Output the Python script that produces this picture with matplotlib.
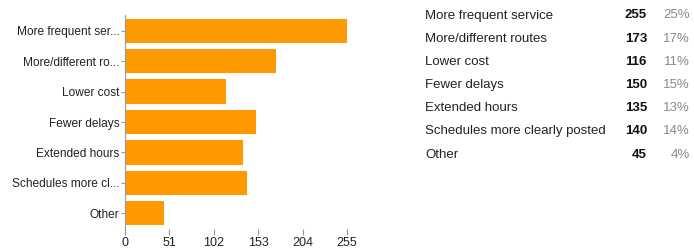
import matplotlib
matplotlib.use("Agg")
import matplotlib.pyplot as plt

plt.rcParams['font.family'] = ['Liberation Sans', 'DejaVu Sans']

labels = ["More frequent service", "More/different routes", "Lower cost",
          "Fewer delays", "Extended hours", "Schedules more clearly posted", "Other"]
short_labels = ["More frequent ser...", "More/different ro...", "Lower cost",
                "Fewer delays", "Extended hours", "Schedules more cl...", "Other"]
counts = [255, 173, 116, 150, 135, 140, 45]
percents = ["25%", "17%", "11%", "15%", "13%", "14%", "4%"]
xticks = [0, 51, 102, 153, 204, 255]

fig = plt.figure(figsize=(6.94, 2.49), dpi=100)
ax = fig.add_axes([125/694, 1 - 228.5/249, 222/694, (228.5 - 15.5)/249])

ypos = list(range(len(counts)))
ax.barh(ypos, counts, height=0.8, color='#ff9900', zorder=2)
ax.set_ylim(len(counts) - 0.5, -0.5)
ax.set_xlim(0, 255)
ax.set_xticks(xticks)
ax.set_xticklabels([str(t) for t in xticks], fontsize=9, color='#222222')
ax.set_yticks(ypos)
ax.set_yticklabels(short_labels, fontsize=8.6, color='#222222')
ax.tick_params(axis='y', length=3, width=0.8, color='#999999', pad=1)
ax.tick_params(axis='x', length=4, width=0.8, color='#999999', pad=2)
for s in ['top', 'right', 'bottom']:
    ax.spines[s].set_visible(False)
ax.spines['left'].set_color('#999999')
ax.spines['left'].set_linewidth(0.8)

# summary table on the right
row_y0 = 15.5
row_dy = 23.17
for i, (lab, c, p) in enumerate(zip(labels, counts, percents)):
    y = 1 - (row_y0 + i * row_dy) / 249
    fig.text(425/694, y, lab, fontsize=9.5, color='#222222', va='center', ha='left')
    fig.text(647/694, y, str(c), fontsize=9.5, color='#111111', weight='bold',
             va='center', ha='right')
    fig.text(690/694, y, p, fontsize=9.5, color='#8a8a8a', va='center', ha='right')

fig.savefig("out.png", dpi=100)
